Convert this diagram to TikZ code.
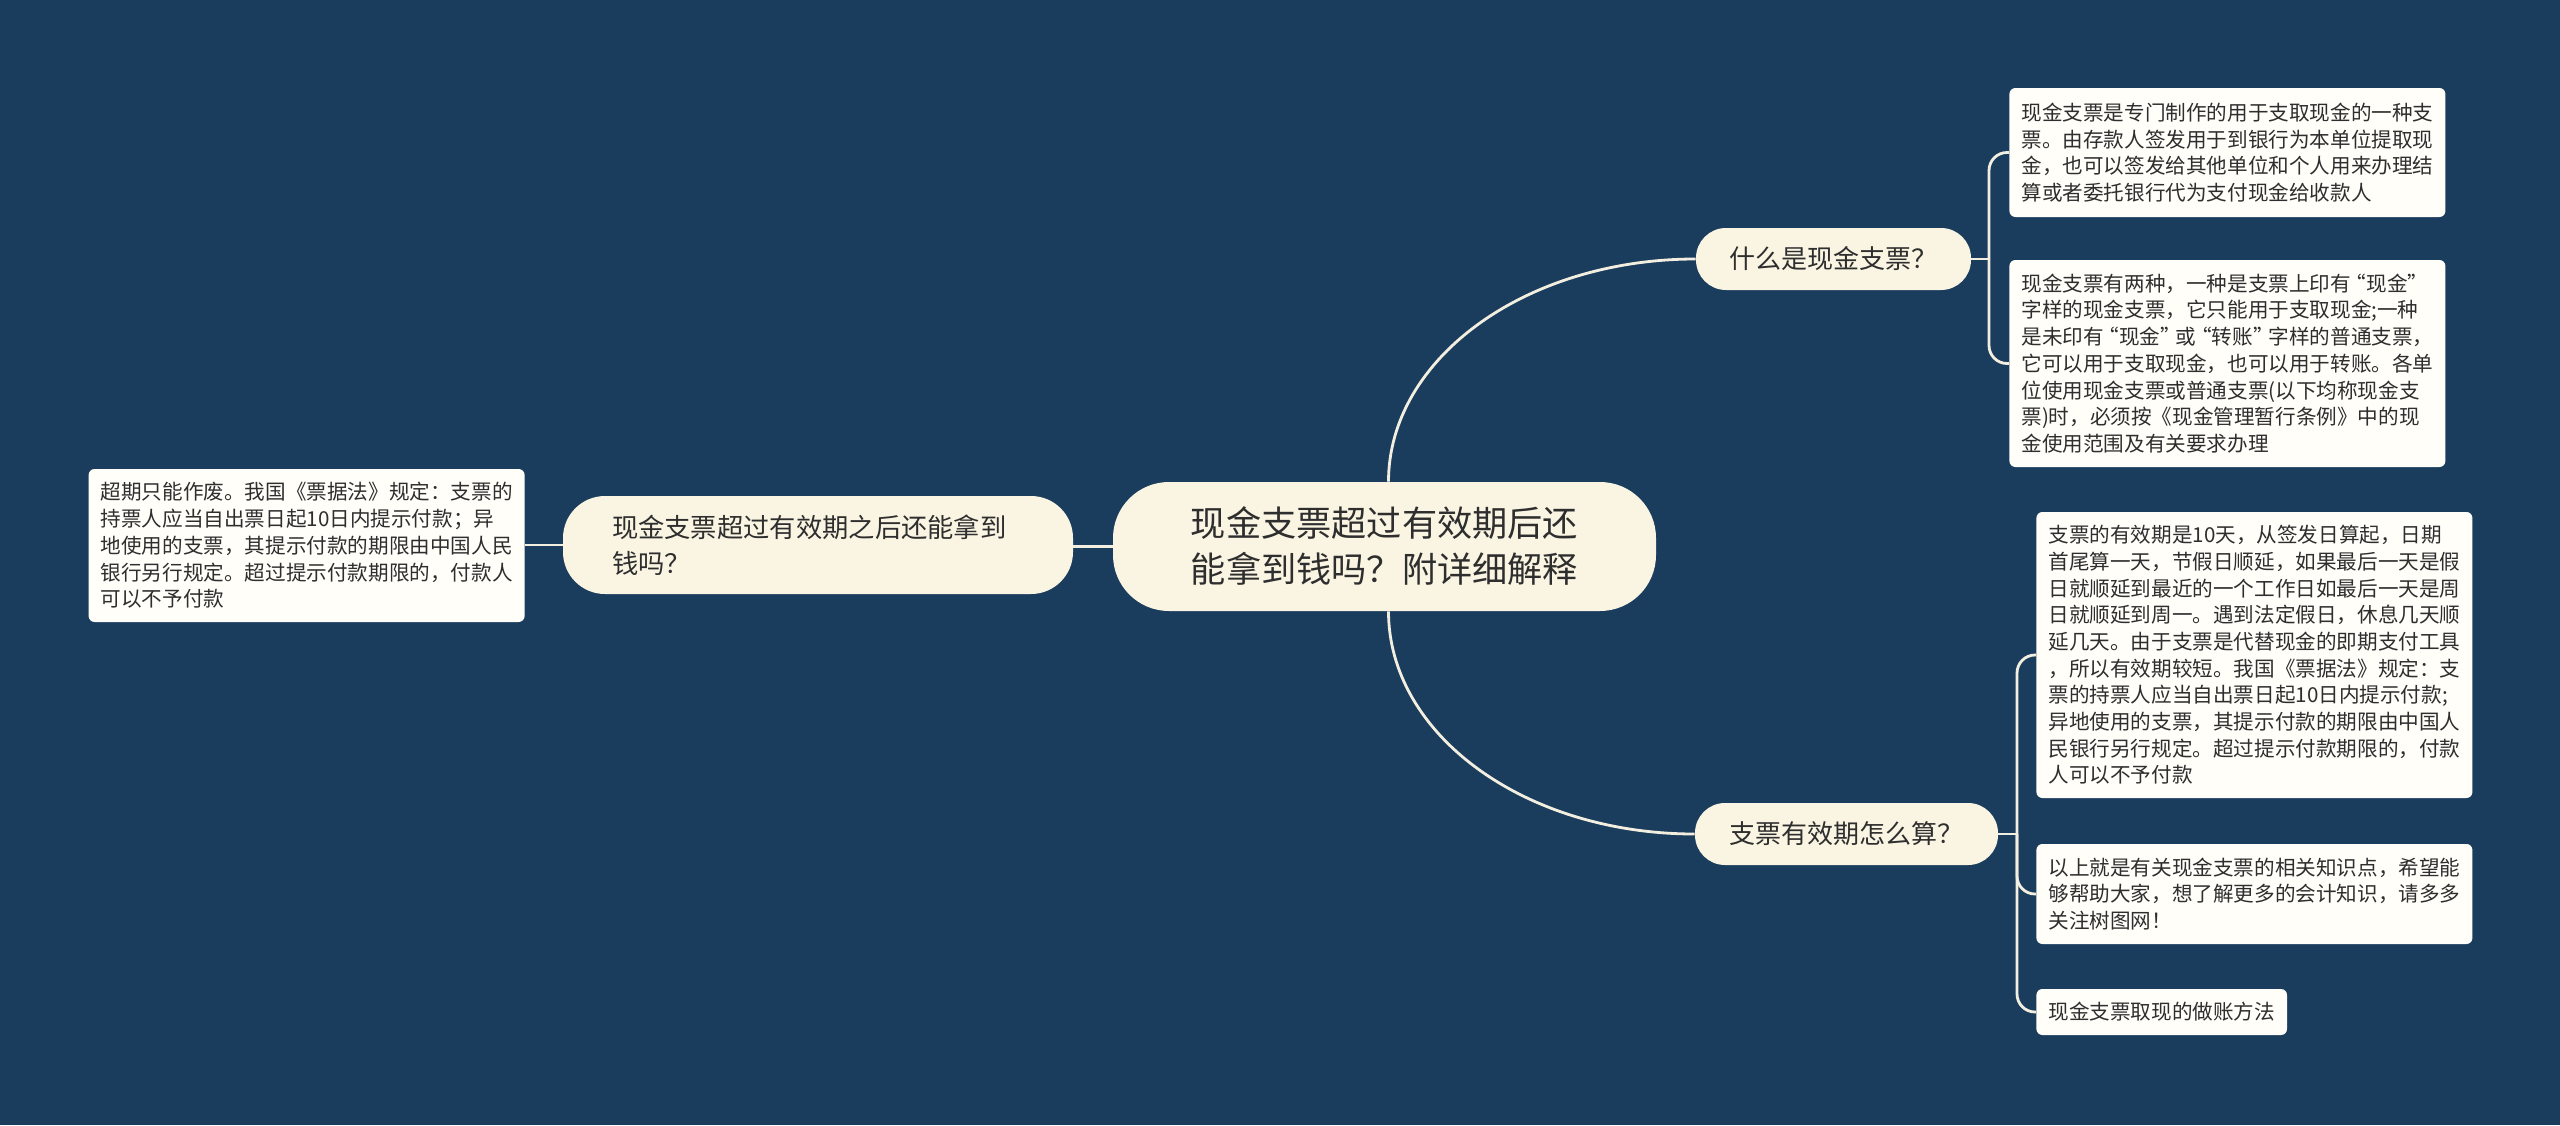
\documentclass[tikz,border=0pt]{standalone}
\usepackage{fontspec}
\setmainfont{Noto Sans CJK SC}
\newcommand{\qk}{\kern-0.25em}
\definecolor{bg}{HTML}{1B3D5D}
\definecolor{cream}{HTML}{FAF5E3}
\definecolor{leafbg}{HTML}{FFFEF9}
\definecolor{txt}{HTML}{2E2E2E}
\definecolor{linec}{HTML}{F3EFE0}
\begin{document}
\begin{tikzpicture}[x=0.5pt,y=-0.5pt,
  conn/.style={draw=linec,line width=1.4pt},
  centralbox/.style={fill=cream,text=txt,rounded corners=28pt,minimum width=271.5pt,minimum height=64.5pt,align=center,inner sep=0pt,font=\fontsize{17.6pt}{23pt}\selectfont},
  branchbox/.style={fill=cream,text=txt,rounded corners=15pt,minimum height=31pt,inner sep=0pt,font=\fontsize{13pt}{17pt}\selectfont},
  lbranchbox/.style={fill=cream,text=txt,rounded corners=21pt,minimum height=49pt,text width=206pt,inner xsep=24.5pt,inner ysep=0pt,align=left,font=\fontsize{13.15pt}{18pt}\selectfont},
  leafbox/.style={fill=leafbg,text=txt,rounded corners=3pt,text width=206pt,inner xsep=6pt,inner ysep=0pt,align=left,font=\fontsize{10.3pt}{13.35pt}\selectfont},
]
\fill[bg] (0,0) rectangle (2560,1125);
\useasboundingbox (0,0) rectangle (2560,1125);

\node[centralbox] (c) at (1384.5,546.5) {现金支票超过有效期后还\\能拿到钱吗？附详细解释};
\node[branchbox,minimum width=137.5pt] (b1) at (1833.5,259) {什么是现金支票？};
\node[branchbox,minimum width=151.5pt] (b2) at (1846.5,834) {支票有效期怎么算？};
\node[lbranchbox] (lb) at (818,545) {现金支票超过有效期之后还能拿到\\钱吗？};

\node[leafbox,anchor=east,minimum height=76.5pt] (ll) at (525,545.5) {超期只能作废。我国《票据法》规定：支票的\\持票人应当自出票日起10日内提示付款；异\\地使用的支票，其提示付款的期限由中国人民\\银行另行规定。超过提示付款期限的，付款人\\可以不予付款};

\node[leafbox,anchor=west,minimum height=64.5pt] (l1) at (2009,152.5) {现金支票是专门制作的用于支取现金的一种支\\票。由存款人签发用于到银行为本单位提取现\\金，也可以签发给其他单位和个人用来办理结\\算或者委托银行代为支付现金给收款人};

\node[leafbox,anchor=west,minimum height=103.5pt] (l2) at (2009,363.5) {现金支票有两种，一种是支票上印有\qk“现金”\\字样的现金支票，它只能用于支取现金;一种\\是未印有\qk“现金”\qk 或\qk“转账”\qk 字样的普通支票，\\它可以用于支取现金，也可以用于转账。各单\\位使用现金支票或普通支票(以下均称现金支\\票)时，必须按《现金管理暂行条例》中的现\\金使用范围及有关要求办理};

\node[leafbox,anchor=west,minimum height=143pt] (l3) at (2036,655) {支票的有效期是10天，从签发日算起，日期\\首尾算一天，节假日顺延，如果最后一天是假\\日就顺延到最近的一个工作日如最后一天是周\\日就顺延到周一。遇到法定假日，休息几天顺\\延几天。由于支票是代替现金的即期支付工具\\，所以有效期较短。我国《票据法》规定：支\\票的持票人应当自出票日起10日内提示付款;\\异地使用的支票，其提示付款的期限由中国人\\民银行另行规定。超过提示付款期限的，付款\\人可以不予付款};

\node[leafbox,anchor=west,minimum height=50pt] (l4) at (2036,894) {以上就是有关现金支票的相关知识点，希望能\\够帮助大家，想了解更多的会计知识，请多多\\关注树图网！};

\node[leafbox,anchor=west,minimum height=23pt,text width=113.3pt] (l5) at (2036,1012) {现金支票取现的做账方法};

% connectors
\draw[conn] ([xshift=2pt]c.north) .. controls +(0,-123) and +(-170,0) .. (b1.west);
\draw[conn] ([xshift=2pt]c.south) .. controls +(0,123) and +(-170,0) .. (b2.west);
\draw[conn] (c.west) -- (c.west -| lb.east);
\draw[conn] (lb.west) -- (lb.west -| ll.east);

\coordinate (j1) at (1989,259);
\draw[conn] (b1.east) -- (j1);
\draw[conn,rounded corners=9pt] (j1) |- (l1.west);
\draw[conn,rounded corners=9pt] (j1) |- (l2.west);

\coordinate (j2) at (2017,834);
\draw[conn] (b2.east) -- (j2);
\draw[conn,rounded corners=9pt] (j2) |- (l3.west);
\draw[conn,rounded corners=9pt] (j2) |- (l4.west);
\draw[conn,rounded corners=9pt] (j2) |- (l5.west);
\end{tikzpicture}
\end{document}
